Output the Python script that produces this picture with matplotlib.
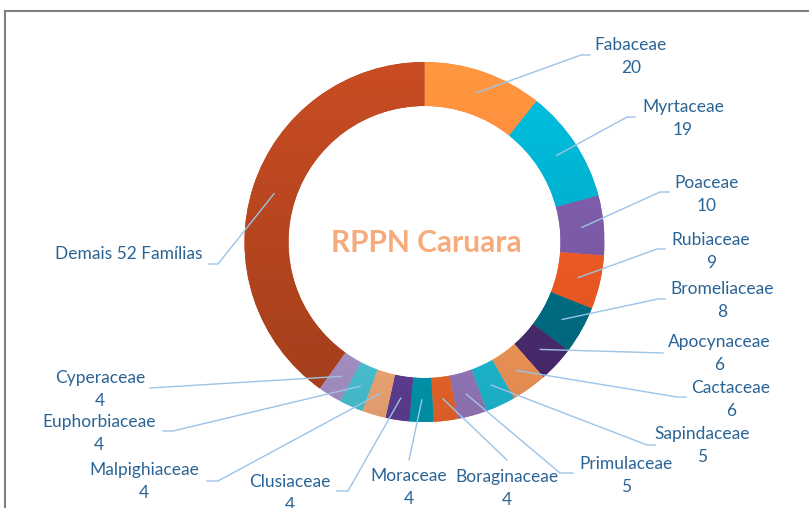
import matplotlib
matplotlib.use("Agg")
import matplotlib.pyplot as plt
import matplotlib.colors as mcolors
import numpy

W, H = 809, 508

# Data
families = [
    "Fabaceae",
    "Myrtaceae",
    "Poaceae",
    "Rubiaceae",
    "Bromeliaceae",
    "Apocynaceae",
    "Cactaceae",
    "Sapindaceae",
    "Primulaceae",
    "Boraginaceae",
    "Moraceae",
    "Clusiaceae",
    "Malpighiaceae",
    "Euphorbiaceae",
    "Cyperaceae",
    "Demais 52 Famílias",
]
counts = [20, 19, 10, 9, 8, 6, 6, 5, 5, 4, 4, 4, 4, 4, 4, 75]
show_value = [True] * 15 + [False]
title = "RPPN Caruara"

COLORS = [
    "#F2883A",
    "#00AECB",
    "#7B5BA6",
    "#EE5A24",
    "#006F84",
    "#4A2C70",
    "#F89A5A",
    "#1EBFD8",
    "#9A7CC0",
    "#F4682C",
    "#009DB5",
    "#62409A",
    "#FAAE7A",
    "#4CCBDD",
    "#AE97CE",
    "#B5451F",
]
TEXT = "#2A6496"
LEADER = "#9DC3E6"

# Layout (pixel coordinates, y measured from the top)
center_px = (424.5, 242)
radius = 180
ring = 44
name_pos = [
    (631, 45), (683, 107), (707, 183), (711, 240), (722, 289), (719, 342),
    (731, 388), (702, 434), (626, 464), (507, 477), (409, 476), (290, 482),
    (144, 470), (99, 422), (100, 378), (129, 254),
]
leader_pts = [
    [(581, 55), (590, 55)], [(627, 117), (635, 117)], [(660, 192), (669, 192)],
    [(657, 249), (665, 249)], [(658, 299), (665, 299)], [(663, 353)],
    [(677, 397), (686, 397)], [(647, 445), (655, 445)], [(560, 473), (573, 473)],
    [(507, 460)], [(409, 460)], [(348, 491), (337, 491)],
    [(218, 481), (207, 481)], [(173, 431), (163, 431)], [(150, 388)],
    [(218, 264), (209, 264)],
]

plt.rcParams["font.family"] = ["Lato", "DejaVu Sans"]

fig = plt.figure(figsize=(W / 100, H / 100), dpi=100)
ax = fig.add_axes([0, 0, 1, 1])

cx, cy = center_px[0], H - center_px[1]

wedges, _ = ax.pie(
    counts,
    colors=COLORS,
    radius=radius,
    center=(cx, cy),
    startangle=90,
    counterclock=False,
    wedgeprops=dict(width=ring, edgecolor="none", linewidth=0),
)

# vertical gradient over the ring, lighter on top, darker at the bottom
yy = numpy.linspace(-1, 1, 256)
shade = 1 + 0.11 * yy
for w, c in zip(wedges, COLORS):
    rgb = numpy.array(mcolors.to_rgb(c))
    img = numpy.clip(shade[:, None] * rgb[None, :], 0, 1)[:, None, :]
    im = ax.imshow(
        img,
        extent=[cx - radius, cx + radius, cy - radius, cy + radius],
        origin="lower",
        aspect="auto",
        interpolation="bilinear",
        zorder=1.5,
    )
    im.set_clip_path(w)

# leader lines and labels
mid_r = radius - ring / 2
for i, w in enumerate(wedges):
    theta = numpy.deg2rad((w.theta1 + w.theta2) / 2)
    xs = [cx + mid_r * numpy.cos(theta)]
    ys = [cy + mid_r * numpy.sin(theta)]
    for px, py in leader_pts[i]:
        xs.append(px)
        ys.append(H - py)
    ax.plot(xs, ys, color=LEADER, lw=1, zorder=3)

    nx, ny = name_pos[i]
    ax.text(nx, H - ny, families[i], ha="center", va="center",
            fontsize=12.5, color=TEXT, zorder=4)
    if show_value[i]:
        ax.text(nx, H - ny - 23, str(counts[i]), ha="center", va="center",
                fontsize=12.5, color=TEXT, zorder=4)

ax.text(426.5, H - 243, title, ha="center", va="center", fontsize=21.5,
        fontweight="bold", color="#F7AB7C", zorder=4)

# chart frame (continues past the right and bottom edges)
ax.plot([5, 5], [0, H - 11], color="#7F7F7F", lw=1.5, zorder=5)
ax.plot([5, W + 5], [H - 11, H - 11], color="#7F7F7F", lw=1.5, zorder=5)

ax.set_xlim(0, W)
ax.set_ylim(0, H)
ax.set_aspect("equal")
ax.axis("off")

plt.savefig("out.png", dpi=100)
